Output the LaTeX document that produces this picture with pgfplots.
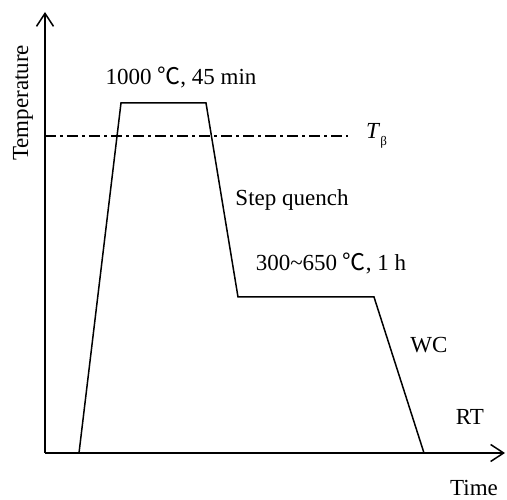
\documentclass[border=0pt]{standalone}
\usepackage{fontspec}
\setmainfont{Liberation Serif}
\newfontfamily\cjk{Noto Sans CJK SC}
\usepackage{pgfplots}
\pgfplotsset{compat=1.18}
\usetikzlibrary{arrows.meta}

% process curve, in picture units (x right, y up from the time axis)
\pgfplotstableread{
x   y
79  0
121 350
206 350
238 156
374 156
424 0
}\curve

\tikzset{lbl/.style={font=\fontsize{23}{27}\selectfont, inner sep=0pt}}
\newcommand{\degC}{\hspace{0.25em}{\cjk ℃}}

\begin{document}
\begin{tikzpicture}
\begin{axis}[
    scale only axis,
    width=460pt, height=441pt,
    xmin=45, xmax=505, ymin=0, ymax=441,
    axis lines=left,
    axis line style={line width=1.5pt, -{Straight Barb[length=13pt,width=17pt,line width=1.5pt]}},
    xtick=\empty, ytick=\empty,
    clip=false,
]
    \addplot[black, line width=1.5pt, line join=miter] table {\curve};
    \addplot[black, line width=1.3pt, dash pattern=on 11pt off 4pt on 3pt off 4pt]
        coordinates {(45,317) (348,317)};

    \node[lbl] at (axis cs:181,375) {1000\degC, 45 min};
    \node[lbl, anchor=west] at (axis cs:366,317) {\textit{T}\raisebox{-0.6ex}{\fontsize{13}{13}\selectfont β}};
    \node[lbl] at (axis cs:292,253) {Step quench};
    \node[lbl] at (axis cs:331,189) {300{\char"7E}650\degC, 1 h};
    \node[lbl] at (axis cs:429,108) {WC};
    \node[lbl] at (axis cs:470,36) {RT};
    \node[lbl] at (axis cs:474,-35) {Time};
    \node[lbl, rotate=90] at (axis cs:23,350) {Temperature};

    \coordinate (bl) at (axis cs:0,-47);
    \coordinate (tr) at (axis cs:507,453);
\end{axis}
\pgfresetboundingbox
\path[use as bounding box] (bl) rectangle (tr);
\end{tikzpicture}
\end{document}
